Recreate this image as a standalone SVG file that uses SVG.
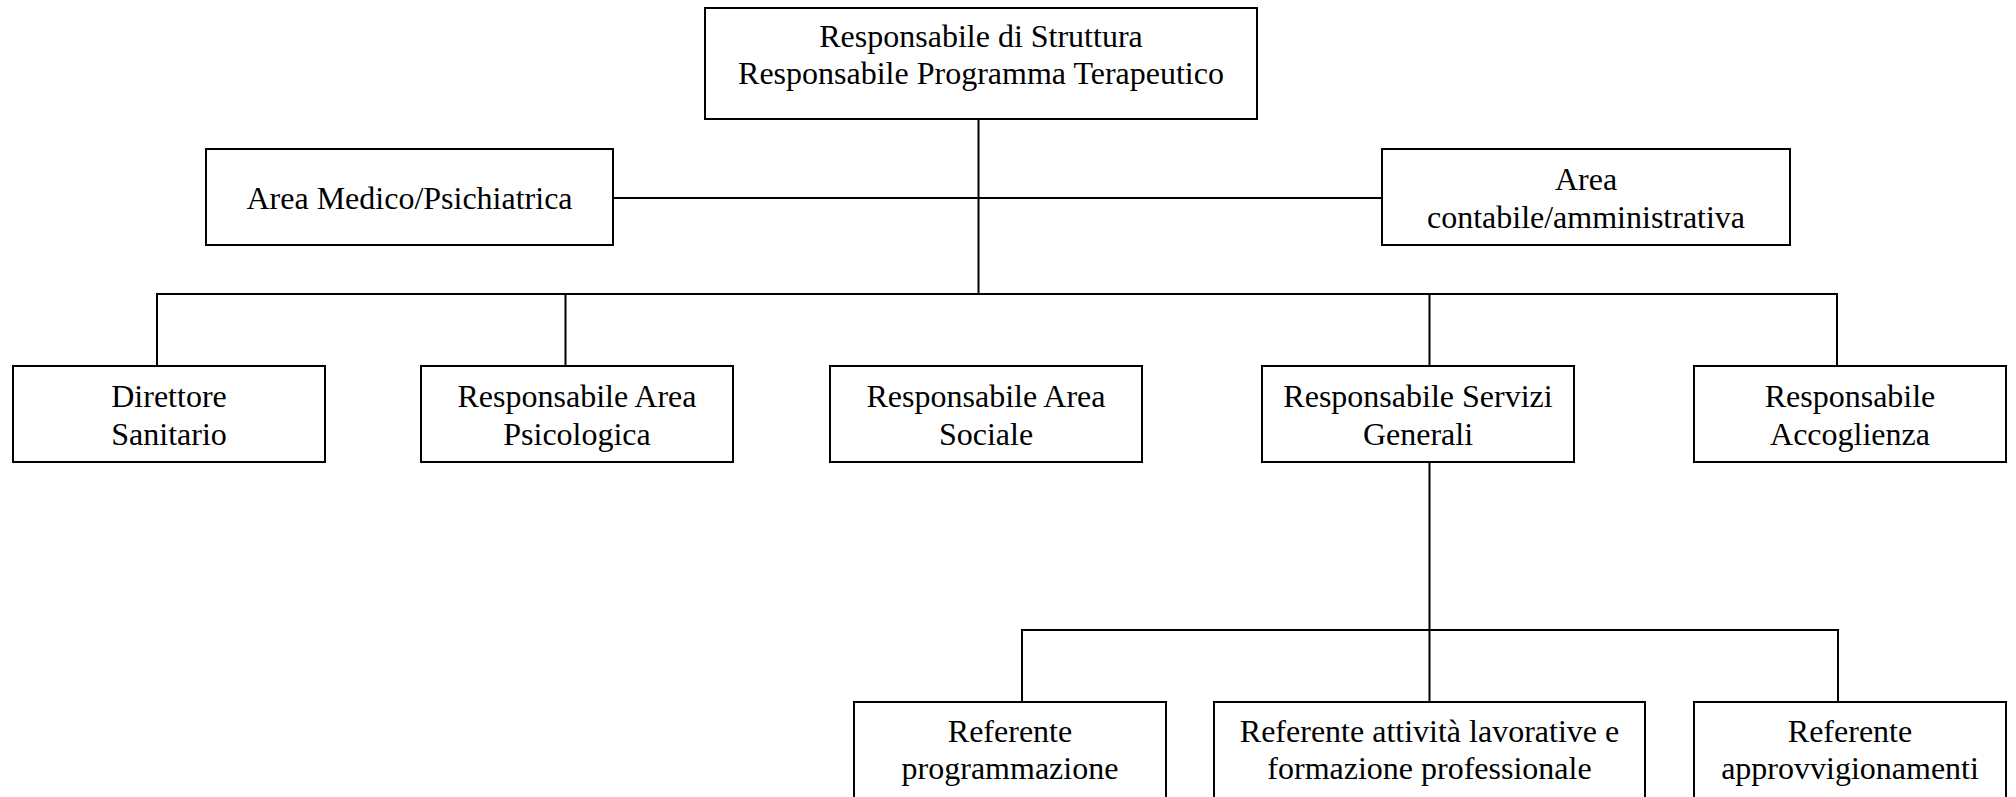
<svg xmlns="http://www.w3.org/2000/svg" width="2016" height="797" viewBox="0 0 2016 797">
<style>
.box{fill:#fff;stroke:#000;stroke-width:2}
.ln{fill:none;stroke:#000;stroke-width:2}
text{font-family:"Liberation Serif","Times New Roman",serif;font-size:32px;fill:#000;text-anchor:middle}
</style>
<rect width="2016" height="797" fill="#fff"/>
<g id="connectors">
<path class="ln" d="M978.5 119V294"/>
<path class="ln" d="M613 198H1382"/>
<path class="ln" d="M157 366V294H1837V366"/>
<path class="ln" d="M565.5 294V366"/>
<path class="ln" d="M1429.5 294V366"/>
<path class="ln" d="M1429.5 462V702"/>
<path class="ln" d="M1022 702V630H1838V702"/>
</g>
<g id="n_top">
<rect class="box" x="705" y="8" width="552" height="111"/>
<text x="981" y="47">Responsabile di Struttura</text>
<text x="981" y="84">Responsabile Programma Terapeutico</text>
</g>
<g id="n_medico">
<rect class="box" x="206" y="149" width="407" height="96"/>
<text x="409.5" y="209">Area Medico/Psichiatrica</text>
</g>
<g id="n_contabile">
<rect class="box" x="1382" y="149" width="408" height="96"/>
<text x="1586" y="190">Area</text>
<text x="1586" y="228">contabile/amministrativa</text>
</g>
<g id="n_direttore">
<rect class="box" x="13" y="366" width="312" height="96"/>
<text x="169" y="407">Direttore</text>
<text x="169" y="445">Sanitario</text>
</g>
<g id="n_psicologica">
<rect class="box" x="421" y="366" width="312" height="96"/>
<text x="577" y="407">Responsabile Area</text>
<text x="577" y="445">Psicologica</text>
</g>
<g id="n_sociale">
<rect class="box" x="830" y="366" width="312" height="96"/>
<text x="986" y="407">Responsabile Area</text>
<text x="986" y="445">Sociale</text>
</g>
<g id="n_servizi">
<rect class="box" x="1262" y="366" width="312" height="96"/>
<text x="1418" y="407">Responsabile Servizi</text>
<text x="1418" y="445">Generali</text>
</g>
<g id="n_accoglienza">
<rect class="box" x="1694" y="366" width="312" height="96"/>
<text x="1850" y="407">Responsabile</text>
<text x="1850" y="445">Accoglienza</text>
</g>
<g id="n_programmazione">
<rect class="box" x="854" y="702" width="312" height="120"/>
<text x="1010" y="742">Referente</text>
<text x="1010" y="779">programmazione</text>
</g>
<g id="n_attivita">
<rect class="box" x="1214" y="702" width="431" height="120"/>
<text x="1429.5" y="742">Referente attività lavorative e</text>
<text x="1429.5" y="779">formazione professionale</text>
</g>
<g id="n_approvvigionamenti">
<rect class="box" x="1694" y="702" width="312" height="120"/>
<text x="1850" y="742">Referente</text>
<text x="1850" y="779">approvvigionamenti</text>
</g>
</svg>
